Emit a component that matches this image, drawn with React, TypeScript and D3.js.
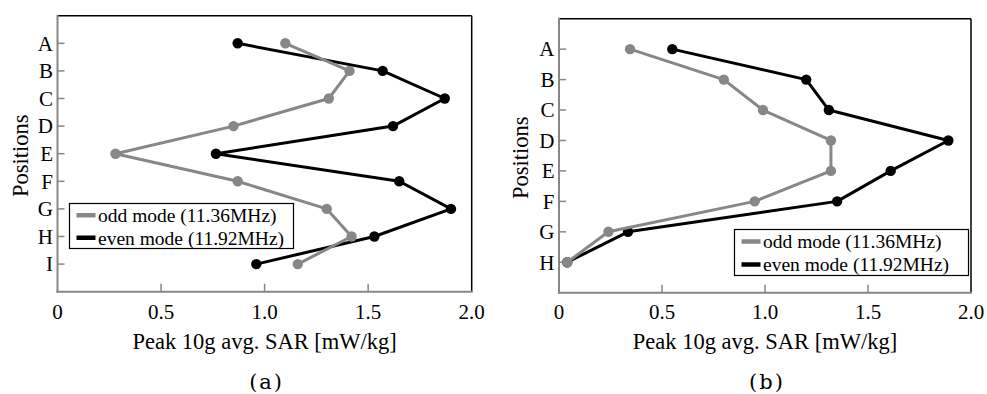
import React from "react";
import * as d3 from "d3";

// ---- data ----
const categoriesA = ["A", "B", "C", "D", "E", "F", "G", "H", "I"];
const oddA = [1.1, 1.41, 1.31, 0.85, 0.28, 0.87, 1.3, 1.42, 1.16];
const evenA = [0.87, 1.57, 1.87, 1.62, 0.765, 1.65, 1.9, 1.53, 0.96];

const categoriesB = ["A", "B", "C", "D", "E", "F", "G", "H"];
const oddB = [0.345, 0.8, 0.99, 1.32, 1.32, 0.95, 0.24, 0.04];
const evenB = [0.55, 1.2, 1.31, 1.89, 1.61, 1.35, 0.335, 0.04];

const xTicks = [0, 0.5, 1.0, 1.5, 2.0];
const xTickLabels = ["0", "0.5", "1.0", "1.5", "2.0"];
const seriesNames = ["odd mode (11.36MHz)", "even mode (11.92MHz)"];
const xTitle = "Peak 10g avg. SAR [mW/kg]";
const yTitle = "Positions";
const captions = ["(a)", "(b)"];

const GRAY = "#878787";
const FONT = "'Liberation Serif', 'Times New Roman', serif";

type PanelProps = {
  left: number;
  right: number;
  top: number;
  bottom: number;
  cats: string[];
  odd: number[];
  even: number[];
  legend: { x: number; y: number; w: number; h: number };
  yTitleX: number;
  caption: string;
};

function Panel(p: PanelProps) {
  const x = d3.scaleLinear().domain([0, 2]).range([p.left, p.right]);
  const y = d3.scaleLinear().domain([-1, p.cats.length]).range([p.top, p.bottom]);
  const line = d3
    .line<number>()
    .x((d) => x(d))
    .y((_d, i) => y(i));
  const cx = (p.left + p.right) / 2;
  const cy = (p.top + p.bottom) / 2;
  const series = [
    { vals: p.even, color: "#000" },
    { vals: p.odd, color: GRAY },
  ];
  const lg = p.legend;
  const rowH = lg.h / 2;
  return (
    <g>
      {/* frame */}
      <line x1={p.left} x2={p.right} y1={p.top} y2={p.top} stroke="#000" strokeWidth={1.5} />
      <line x1={p.right} x2={p.right} y1={p.top} y2={p.bottom} stroke="#000" strokeWidth={1.5} />
      {/* y ticks */}
      {p.cats.map((c, i) => (
        <g key={c}>
          <line x1={p.left} x2={p.left + 7} y1={y(i)} y2={y(i)} stroke={GRAY} strokeWidth={1.5} />
          <text
            x={p.left - 4.5}
            y={y(i)}
            dy="0.35em"
            textAnchor="end"
            fontSize={21}
            fontFamily={FONT}
          >
            {c}
          </text>
        </g>
      ))}
      {/* x ticks */}
      {xTicks.map((t, i) => (
        <g key={t}>
          {i > 0 && i < xTicks.length - 1 && (
            <line x1={x(t)} x2={x(t)} y1={p.bottom} y2={p.bottom - 8} stroke={GRAY} strokeWidth={1.5} />
          )}
          <text x={x(t)} y={318.5} textAnchor="middle" fontSize={21} fontFamily={FONT}>
            {xTickLabels[i]}
          </text>
        </g>
      ))}
      <line x1={p.left} x2={p.left} y1={p.top - 1} y2={p.bottom + 1} stroke={GRAY} strokeWidth={2} />
      <line x1={p.left - 1} x2={p.right + 1} y1={p.bottom} y2={p.bottom} stroke={GRAY} strokeWidth={2} />
      {/* titles */}
      <text x={cx} y={349} textAnchor="middle" fontSize={22.5} fontFamily={FONT}>
        {xTitle}
      </text>
      <text
        transform={`translate(${p.yTitleX},${cy + 2}) rotate(-90)`}
        textAnchor="middle"
        dy="0.35em"
        fontSize={22.5}
        fontFamily={FONT}
      >
        {yTitle}
      </text>
      {/* series */}
      {series.map((s, si) => (
        <g key={si}>
          <path d={line(s.vals) || ""} fill="none" stroke={s.color} strokeWidth={3} strokeLinejoin="round" />
          {s.vals.map((v, i) => (
            <circle key={i} cx={x(v)} cy={y(i)} r={5.2} fill={s.color} />
          ))}
        </g>
      ))}
      {/* legend */}
      <rect x={lg.x} y={lg.y} width={lg.w} height={lg.h} fill="#fff" stroke="#000" strokeWidth={1.2} />
      {seriesNames.map((n, i) => {
        const ly = lg.y + rowH * (i + 0.5) + 0.5;
        return (
          <g key={n}>
            <line
              x1={lg.x + 7}
              x2={lg.x + 26}
              y1={ly}
              y2={ly}
              stroke={i === 0 ? GRAY : "#000"}
              strokeWidth={4.5}
            />
            <text x={lg.x + 28.5} y={ly} dy="0.35em" fontSize={19.5} fontFamily={FONT}>
              {n}
            </text>
          </g>
        );
      })}
      {/* caption */}
      <text
        x={cx + 2}
        y={389}
        textAnchor="middle"
        fontSize={21}
        fontFamily="'DejaVu Serif', serif"
        letterSpacing={2}
      >
        {p.caption}
      </text>
    </g>
  );
}

export default function App() {
  return (
    <svg
      width={987}
      height={394}
      style={{ position: "absolute", left: 0, top: 0, background: "#fff" }}
    >
      <rect width={987} height={394} fill="#fff" />
      <Panel
        left={57.5}
        right={471.7}
        top={15.7}
        bottom={291.7}
        cats={categoriesA}
        odd={oddA}
        even={evenA}
        legend={{ x: 69.5, y: 203.5, w: 224, h: 45 }}
        yTitleX={20}
        caption={captions[0]}
      />
      <Panel
        left={559}
        right={971}
        top={18.7}
        bottom={292.7}
        cats={categoriesB}
        odd={oddB}
        even={evenB}
        legend={{ x: 734.5, y: 229.5, w: 234, h: 46 }}
        yTitleX={520}
        caption={captions[1]}
      />
    </svg>
  );
}
